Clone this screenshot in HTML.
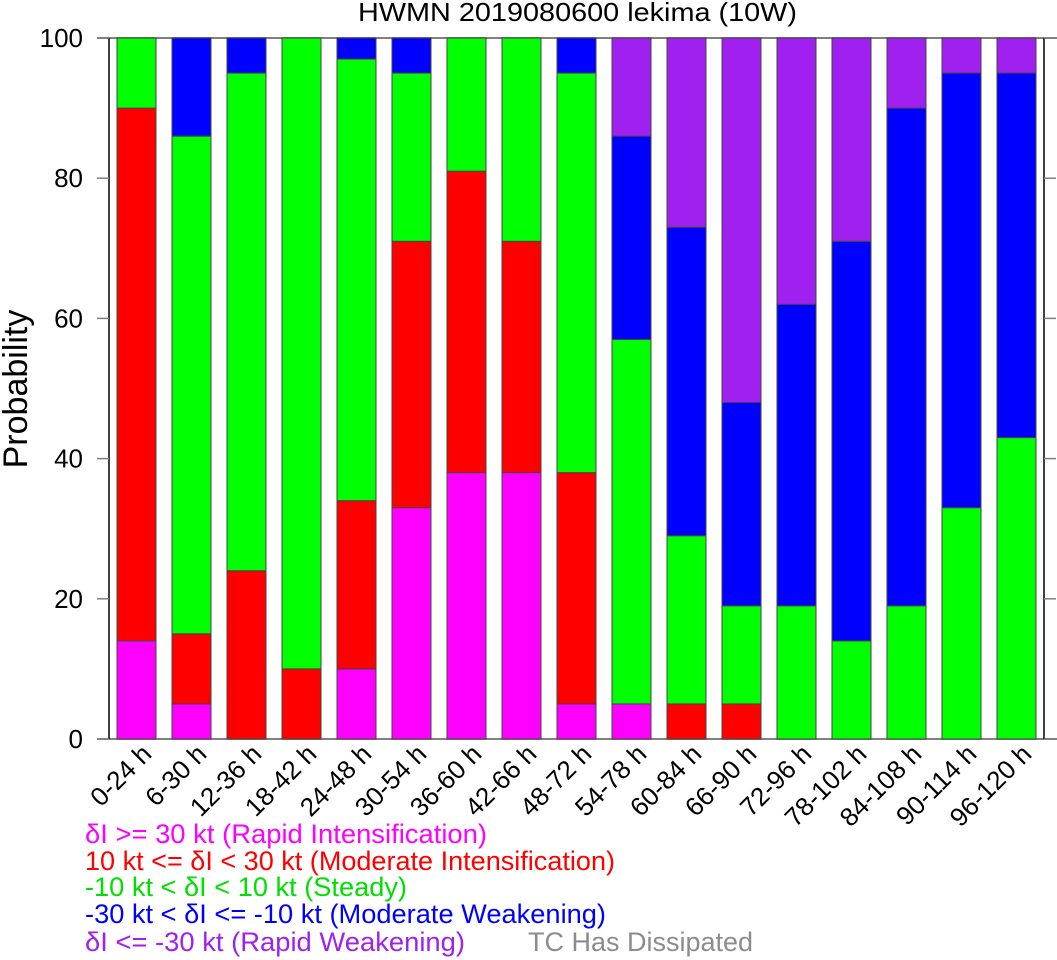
<!DOCTYPE html>
<html><head><meta charset="utf-8"><style>
body{margin:0;background:#fff}
svg{display:block;font-family:"Liberation Sans",sans-serif}
</style></head><body>
<svg id="chart" width="1057" height="960" viewBox="0 0 1057 960">
<text x="358" y="21" font-size="26" textLength="439" lengthAdjust="spacingAndGlyphs">HWMN 2019080600 lekima (10W)</text>
<text transform="translate(27,389) rotate(-90)" font-size="34" text-anchor="middle">Probability</text>
<g id="axes"></g>
<g id="bars"></g>
<g id="legend" font-size="27">
<text x="85" y="843" fill="#ff00ff" textLength="402" lengthAdjust="spacingAndGlyphs">δI &gt;= 30 kt (Rapid Intensification)</text>
<text x="85" y="870" fill="#ff0000" textLength="530" lengthAdjust="spacingAndGlyphs">10 kt &lt;= δI &lt; 30 kt (Moderate Intensification)</text>
<text x="85" y="896" fill="#00e000" textLength="322" lengthAdjust="spacingAndGlyphs">-10 kt &lt; δI &lt; 10 kt (Steady)</text>
<text x="85" y="923" fill="#0000ff" textLength="521" lengthAdjust="spacingAndGlyphs">-30 kt &lt; δI &lt;= -10 kt (Moderate Weakening)</text>
<text x="85" y="951" fill="#a020f0" textLength="380" lengthAdjust="spacingAndGlyphs">δI &lt;= -30 kt (Rapid Weakening)</text>
<text x="528" y="951" fill="#8c8c8c" textLength="225" lengthAdjust="spacingAndGlyphs">TC Has Dissipated</text>
</g>
</svg>
<script>
const categories=["0-24 h","6-30 h","12-36 h","18-42 h","24-48 h","30-54 h","36-60 h","42-66 h","48-72 h","54-78 h","60-84 h","66-90 h","72-96 h","78-102 h","84-108 h","90-114 h","96-120 h"];
const rapidInt=[14,5,0,0,10,33,38,38,5,5,0,0,0,0,0,0,0];
const moderateInt=[76,10,24,10,24,38,43,33,33,0,5,5,0,0,0,0,0];
const steady=[10,71,71,90,63,24,19,29,57,52,24,14,19,14,19,33,43];
const moderateWeak=[0,14,5,0,3,5,0,0,5,29,44,29,43,57,71,62,52];
const rapidWeak=[0,0,0,0,0,0,0,0,0,14,27,52,38,29,10,5,5];
const yTicks=[0,20,40,60,80,100];
const NS="http://www.w3.org/2000/svg";
const X0=109,X1=1044,Y0=739,Y1=38;
function yScale(v){return Y0-(v/100)*(Y0-Y1);}
function xCenter(i){return 136.5+i*((1016.5-136.5)/(categories.length-1));}
const BW=39;
function mk(tag,attrs,parent){const e=document.createElementNS(NS,tag);for(const k in attrs)e.setAttribute(k,attrs[k]);parent.appendChild(e);return e;}
const axes=document.getElementById('axes'),bars=document.getElementById('bars');
const series=[[rapidInt,"#ff00ff","ri"],[moderateInt,"#ff0000","mi"],[steady,"#00ff00","steady"],[moderateWeak,"#0000ff","mw"],[rapidWeak,"#a020f0","rw"]];
categories.forEach((c,i)=>{
  let acc=0;
  series.forEach(s=>{
    const v=s[0][i];
    if(v>0){
      const r=mk('rect',{x:xCenter(i)-BW/2,y:yScale(acc+v),width:BW,height:yScale(acc)-yScale(acc+v),fill:s[1],stroke:"#444","stroke-width":1},bars);
      
      
    }
    acc+=v;
  });
  const t=mk('text',{transform:`translate(${xCenter(i)+3},${Y0+3}) rotate(-45)`,"font-size":26,"text-anchor":"end","dominant-baseline":"hanging"},axes);
  
  
  t.textContent=c;
});
mk('line',{x1:97,y1:Y0,x2:1057,y2:Y0,stroke:"#808080","stroke-width":2},axes);
mk('line',{x1:97,y1:Y1,x2:1057,y2:Y1,stroke:"#808080","stroke-width":2},axes);
const la=mk('line',{x1:X0,y1:Y1,x2:X0,y2:Y0,stroke:"#000","stroke-width":1.5},axes);


mk('line',{x1:X1,y1:Y1,x2:X1,y2:Y0,stroke:"#000","stroke-width":1.5},axes);
yTicks.forEach(v=>{
  mk('line',{x1:97,y1:yScale(v),x2:X0,y2:yScale(v),stroke:"#808080","stroke-width":1.5},axes);
  mk('line',{x1:X1,y1:yScale(v),x2:1056,y2:yScale(v),stroke:"#808080","stroke-width":1.5},axes);
  const t=mk('text',{x:83,y:yScale(v)+9,"font-size":26,"text-anchor":"end"},axes);
  
  
  t.textContent=v;
});
</script>
</body></html>
